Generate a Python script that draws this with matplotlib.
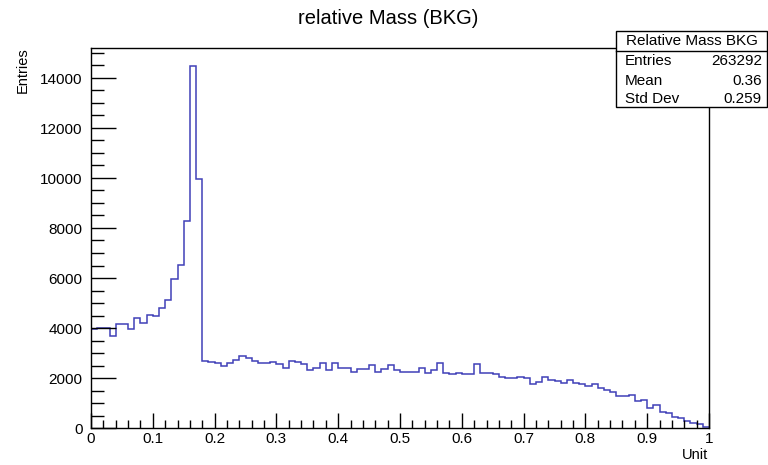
import numpy as np
import matplotlib
matplotlib.use("Agg")
import matplotlib.pyplot as plt
from matplotlib.ticker import MultipleLocator, FuncFormatter
from matplotlib.patches import Rectangle
from matplotlib.lines import Line2D

plt.rcParams['font.family'] = ['Liberation Sans', 'DejaVu Sans']

# ---- data (bin contents, 100 bins of width 0.01 from 0 to 1) ----
bin_edges = np.linspace(0.0, 1.0, 101)
counts = [
    3980, 4000, 4000, 3670, 4150, 4150, 3950, 4420, 4220, 4530,
    4500, 4810, 5130, 5960, 6530, 8280, 14480, 9970, 2670, 2650,
    2620, 2490, 2620, 2740, 2870, 2820, 2670, 2620, 2620, 2650,
    2580, 2420, 2690, 2650, 2580, 2310, 2420, 2620, 2310, 2620,
    2420, 2420, 2250, 2380, 2380, 2510, 2250, 2380, 2510, 2340,
    2250, 2250, 2250, 2420, 2210, 2340, 2600, 2220, 2150, 2220,
    2180, 2180, 2550, 2220, 2220, 2180, 2050, 2020, 2020, 2050,
    2020, 1760, 1850, 2050, 1940, 1890, 1820, 1910, 1820, 1760,
    1680, 1780, 1610, 1520, 1450, 1280, 1280, 1340, 1090, 1140,
    790, 920, 650, 590, 450, 410, 280, 210, 160, 50,
]
title = "relative Mass (BKG)"
stats_title = "Relative Mass BKG"
stats_labels = ["Entries", "Mean", "Std Dev"]
stats_values = ["263292", "0.36", "0.259"]

W, H = 768, 465
fig = plt.figure(figsize=(W / 100, H / 100), dpi=100)
fig.patch.set_facecolor('white')

def fx(px):
    return px / W

def fy(py):
    return 1 - py / H

left, right, top, bottom = 91, 709, 48, 428
ax = fig.add_axes([fx(left), fy(bottom), (right - left) / W, (bottom - top) / H])

ax.stairs(counts, bin_edges, baseline=None, color='#4040b8', linewidth=1.1)

ax.set_xlim(0, 1)
ax.set_ylim(0, 15200)

ax.xaxis.set_major_locator(MultipleLocator(0.1))
ax.xaxis.set_minor_locator(MultipleLocator(0.02))
ax.yaxis.set_major_locator(MultipleLocator(2000))
ax.yaxis.set_minor_locator(MultipleLocator(500))

ax.tick_params(axis='both', which='both', direction='in', top=False, right=False,
               colors='black', width=1)
ax.tick_params(axis='y', which='major', length=18, labelsize=11, pad=6)
ax.tick_params(axis='y', which='minor', length=9)
ax.tick_params(axis='x', which='major', length=11, labelsize=11, pad=3)
ax.tick_params(axis='x', which='minor', length=5.5)

def xfmt(v, pos):
    if abs(v) < 1e-9:
        return "0"
    if abs(v - 1) < 1e-9:
        return "1"
    return f"{v:.1f}"

ax.xaxis.set_major_formatter(FuncFormatter(xfmt))
ax.yaxis.set_major_formatter(FuncFormatter(lambda v, p: f"{int(round(v))}"))

for s in ax.spines.values():
    s.set_linewidth(1)
    s.set_color('black')

# title and axis labels
fig.text(fx(388), fy(18), title, ha='center', va='center', fontsize=14.5)
fig.text(fx(23), fy(47), "Entries", rotation=90, ha='center', va='top', fontsize=10.5)
fig.text(fx(708), fy(455), "Unit", ha='right', va='center', fontsize=10.5)

# stats box
bx0, by0, bx1, by1 = 616, 31, 767, 107
box = Rectangle((fx(bx0), fy(by1)), (bx1 - bx0) / W, (by1 - by0) / H,
                transform=fig.transFigure, facecolor='white', edgecolor='black',
                linewidth=1, zorder=10)
fig.add_artist(box)
fig.add_artist(Line2D([fx(bx0), fx(bx1)], [fy(51), fy(51)], transform=fig.transFigure,
                      color='black', linewidth=1, zorder=11))
fig.text(fx((bx0 + bx1) / 2), fy(41), stats_title, ha='center', va='center',
         fontsize=11, zorder=12)
row_y = [61, 81, 99]
for lab, val, yy in zip(stats_labels, stats_values, row_y):
    fig.text(fx(625), fy(yy), lab, ha='left', va='center', fontsize=11, zorder=12)
    fig.text(fx(762), fy(yy), val, ha='right', va='center', fontsize=11, zorder=12)

fig.savefig("out.png", dpi=100)
